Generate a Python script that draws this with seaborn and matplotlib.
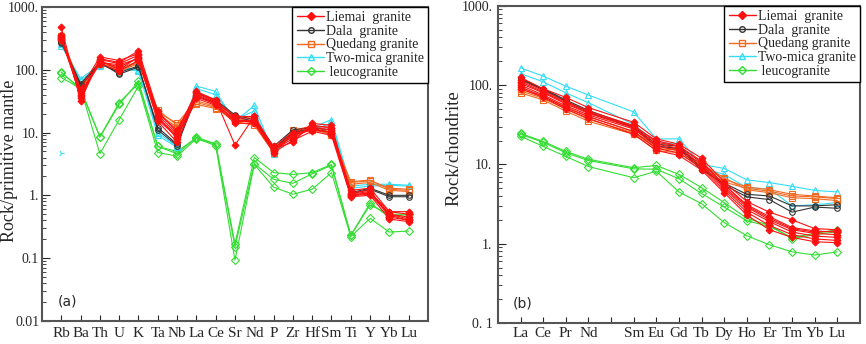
import pandas as pd
import numpy as np
import matplotlib
matplotlib.use('Agg')
import matplotlib.pyplot as plt
from matplotlib.lines import Line2D
import seaborn as sns

# element order on the two diagrams
spider_elements = ['Rb', 'Ba', 'Th', 'U', 'K', 'Ta', 'Nb', 'La', 'Ce', 'Sr',
                   'Nd', 'P', 'Zr', 'Hf', 'Sm', 'Ti', 'Y', 'Yb', 'Lu']
ree_elements = ['La', 'Ce', 'Pr', 'Nd', 'Pm', 'Sm', 'Eu', 'Gd', 'Tb', 'Dy',
                'Ho', 'Er', 'Tm', 'Yb', 'Lu']
ree_plotted = ['La', 'Ce', 'Pr', 'Nd', 'Sm', 'Eu', 'Gd', 'Tb', 'Dy',
               'Ho', 'Er', 'Tm', 'Yb', 'Lu']

groups = ['Liemai  granite', 'Dala  granite', 'Quedang granite',
          'Two-mica granite', ' leucogranite']

# (a) primitive-mantle normalised values, one row per sample
liemai_pm = [
    [470, 32, 150, 130, 200, 22, 10, 45, 33, 6.3, 18, 5.5, 7.0, 14, 13, 1.0, 1.1, 0.55, 0.55],
    [340, 38, 140, 100, 160, 18, 8, 40, 30, 15, 16, 5.3, 8, 12, 11, 1.0, 1.1, 0.50, 0.42],
    [330, 45, 130, 120, 150, 17, 9, 38, 28, 16, 15, 5.0, 9, 11, 10, 1.1, 1.2, 0.45, 0.40],
    [310, 50, 160, 140, 180, 20, 11, 42, 31, 17, 17, 6.0, 10, 13, 12, 1.2, 1.3, 0.55, 0.50],
    [300, 40, 125, 95, 140, 15, 7, 35, 27, 14, 14, 4.8, 7.5, 10.5, 9, 0.95, 1.0, 0.42, 0.38],
    [360, 35, 145, 125, 170, 19, 9.5, 44, 32, 18, 18, 5.8, 8.5, 12.5, 12, 1.05, 1.15, 0.50, 0.45],
    [320, 42, 135, 110, 155, 16, 8.5, 37, 29, 15, 15, 5.2, 9.5, 11.5, 10, 0.98, 1.05, 0.48, 0.40],
]
dala_pm = [
    [270, 60, 130, 85, 110, 12, 6.5, 42, 33, 19, 16, 6.0, 11, 12, 11, 1.1, 1.3, 1.0, 1.0],
    [280, 55, 125, 90, 115, 11, 6.2, 38, 30, 18, 15, 5.5, 10, 11.5, 10, 1.05, 1.25, 0.95, 0.95],
]
quedang_pm = [
    [340, 55, 130, 100, 130, 23, 13, 28, 24, 16, 14, 5.0, 10, 12, 9, 1.65, 1.75, 1.25, 1.2],
    [320, 50, 125, 95, 125, 20, 12, 30, 25, 15, 13, 4.8, 9.5, 11, 9.5, 1.5, 1.6, 1.2, 1.15],
    [300, 58, 135, 105, 135, 21, 14, 32, 26, 17, 15, 5.2, 11, 12.5, 10, 1.6, 1.7, 1.3, 1.25],
]
twomica_pm = [
    [240, 72, 120, 110, 100, 10, 6, 55, 45, 15, 27, 4.6, 10, 12, 16, 1.4, 1.5, 1.5, 1.45],
    [260, 68, 115, 105, 95, 9, 5.8, 50, 40, 16, 22, 4.5, 9.5, 11, 14, 1.3, 1.4, 1.45, 1.4],
]
leuco_pm = [
    [90, 50, 8.5, 28, 65, 6.0, 5.0, 8.2, 6.5, 0.17, 4.0, 2.3, 2.15, 2.3, 3.1, 0.23, 0.75, 0.45, 0.5],
    [75, 50, 4.6, 16, 55, 4.8, 4.2, 8.0, 6.2, 0.093, 3.1, 1.35, 1.04, 1.25, 2.3, 0.22, 0.43, 0.26, 0.27],
    [92, 48, 8.5, 30, 60, 6.0, 4.6, 8.4, 6.6, 0.15, 3.2, 1.8, 1.55, 2.2, 3.0, 0.23, 0.7, 0.5, 0.5],
]
twomica_stray = [4.8]  # lone symbol at Rb

# (b) chondrite normalised REE, one row per sample
liemai_cn = [
    [125, 90, 70, 52, 34, 21, 18, 12, 6.0, 3.4, 2.5, 2.0, 1.55, 1.5],
    [115, 85, 62, 47, 31, 19, 17, 11, 5.5, 3.1, 2.2, 1.6, 1.45, 1.4],
    [105, 80, 58, 44, 29, 18, 16, 10, 5.2, 2.9, 2.0, 1.5, 1.35, 1.3],
    [100, 75, 55, 42, 28, 17, 15, 9.5, 5.0, 2.7, 1.9, 1.4, 1.25, 1.2],
    [95, 72, 52, 40, 26, 16, 14, 9, 4.7, 2.5, 1.7, 1.3, 1.15, 1.1],
    [90, 70, 50, 38, 24, 15, 13, 8.5, 4.4, 2.3, 1.5, 1.2, 1.06, 1.03],
    [110, 82, 60, 45, 30, 20, 17, 10.5, 5.6, 3.0, 2.1, 1.55, 1.4, 1.45],
]
dala_cn = [
    [120, 90, 65, 48, 30, 18, 17, 9, 5.5, 3.9, 3.6, 2.5, 2.9, 2.8],
    [118, 88, 63, 46, 29, 17, 16, 8.5, 5.8, 4.2, 4.0, 3.0, 3.0, 3.1],
]
quedang_cn = [
    [80, 65, 47, 35, 24, 15, 14, 9, 6.0, 5.0, 4.6, 4.0, 3.9, 3.7],
    [85, 68, 50, 37, 25, 16, 15, 9.5, 6.5, 5.2, 4.8, 4.2, 4.0, 3.8],
    [90, 72, 53, 40, 26, 17, 15.5, 10, 6.8, 4.8, 4.4, 3.8, 3.7, 3.5],
]
twomica_cn = [
    [165, 130, 97, 75, 46, 21, 21, 10, 8.9, 6.4, 5.9, 5.3, 4.7, 4.5],
    [140, 110, 80, 60, 32, 19, 18, 9, 7.5, 5.1, 4.9, 3.0, 3.1, 3.3],
]
leuco_cn = [
    [24.6, 19.5, 14.6, 11.6, 9.1, 9.7, 7.5, 5.1, 3.3, 2.1, 1.7, 1.16, 1.3, 1.42],
    [22.7, 16.9, 12.6, 9.4, 6.8, 8.2, 4.5, 3.2, 1.85, 1.26, 0.97, 0.79, 0.72, 0.79],
    [24, 19, 14, 11.2, 8.8, 8.7, 6.6, 4.3, 2.9, 1.95, 1.65, 1.2, 1.35, 1.5],
]

pm_ticks = [0.01, 0.1, 1, 10, 100, 1000]
pm_ticklabels = ['0.01', '0.1', '1.', '10.', '100.', '1000.']
cn_ticks = [0.1, 1, 10, 100, 1000]
cn_ticklabels = ['0. 1', '1.', '10.', '100.', '1000.']

colors = ['#ff1010', '#333333', '#f26a22', '#33ddf5', '#33dd33']
markers = ['D', 'o', 's', '^', 'D']
filled = [True, False, False, False, False]


def to_long(samples, elements, group):
    rows = []
    for i, s in enumerate(samples):
        for el, v in zip(elements, s):
            rows.append({'group': group, 'sample': f'{group}{i}', 'element': el, 'value': v})
    return rows


pm_rows = []
for g, s in zip(groups, [liemai_pm, dala_pm, quedang_pm, twomica_pm, leuco_pm]):
    pm_rows += to_long(s, spider_elements, g)
pm = pd.DataFrame(pm_rows)
pm['pos'] = pm['element'].map({e: i + 1 for i, e in enumerate(spider_elements)})

cn_rows = []
for g, s in zip(groups, [liemai_cn, dala_cn, quedang_cn, twomica_cn, leuco_cn]):
    cn_rows += to_long(s, ree_plotted, g)
cn = pd.DataFrame(cn_rows)
cn['pos'] = cn['element'].map({e: i + 1 for i, e in enumerate(ree_elements)})

sns.set_style('ticks')
plt.rcParams['font.family'] = ['Liberation Serif', 'DejaVu Serif']

fig = plt.figure(figsize=(8.66, 3.44), dpi=100)
ax1 = fig.add_axes([0.0485, 0.067, 0.4457, 0.913])
ax2 = fig.add_axes([0.575, 0.061, 0.418, 0.922])


def draw(ax, df):
    # leucogranite drawn first so the other groups sit on top
    order = [4, 3, 2, 1, 0]
    for k in order:
        sub = df[df['group'] == groups[k]]
        sns.lineplot(data=sub, x='pos', y='value', units='sample', estimator=None,
                     color=colors[k], marker=markers[k], markersize=4 if k else 3.5,
                     markerfacecolor=colors[k] if filled[k] else 'none',
                     markeredgecolor=colors[k], markeredgewidth=0.8,
                     linewidth=0.8, ax=ax, legend=False, sort=False)


draw(ax1, pm)
draw(ax2, cn)
sns.scatterplot(x=[1] * len(twomica_stray), y=twomica_stray, marker='4', s=20,
                color=colors[3], linewidth=0.8, ax=ax1, legend=False)

for ax, elems, yt, ytl, ylim, ylab, tag, labxy, xpad, ypad, ylfs in [
        (ax1, spider_elements, pm_ticks, pm_ticklabels, (0.01, 1000),
         'Rock/primitive mantle', '(a)', (-0.061, 0.51), 4, 2, 13),
        (ax2, ree_elements, cn_ticks, cn_ticklabels, (0.1, 1000),
         'Rock/chondrite', '(b)', (-0.097, 0.55), 3, 4, 13.5)]:
    ax.set_yscale('log')
    ax.set_ylim(*ylim)
    ax.set_xlim(0, len(elems) + 1)
    ax.set_xticks(range(1, len(elems) + 1))
    ax.set_xticklabels([e if e != 'Pm' else '' for e in elems], fontsize=11)
    ax.set_yticks(yt)
    ax.set_yticklabels(ytl, fontsize=10)
    ax.set_xlabel('')
    ax.set_ylabel(ylab, fontsize=ylfs)
    ax.yaxis.set_label_coords(*labxy)
    ax.tick_params(axis='both', which='both', direction='in', top=False, right=False)
    ax.tick_params(axis='x', length=4, width=0.8, pad=xpad)
    ax.tick_params(axis='y', which='major', length=6, width=0.8, pad=ypad)
    ax.tick_params(axis='y', which='minor', length=3, width=0.6)
    for sp in ax.spines.values():
        sp.set_color('#555555')
        sp.set_linewidth(1.5)
    ax.text(0.04, 0.04, tag, transform=ax.transAxes, fontsize=10,
            family='DejaVu Sans', ha='left', va='bottom')
    handles = [Line2D([], [], color=c, marker=m, markersize=4,
                      markerfacecolor=c if f else 'none', markeredgecolor=c,
                      linewidth=1.0)
               for c, m, f in zip(colors, markers, filled)]
    leg = ax.legend(handles, groups, loc='upper right', bbox_to_anchor=(1.0, 1.0),
                    fontsize=10, frameon=True, fancybox=False, framealpha=1,
                    edgecolor='black', borderaxespad=0, handlelength=2.0,
                    handletextpad=0.1, labelspacing=0.05, borderpad=0.3)
    leg.get_frame().set_linewidth(1.0)

fig.savefig('out.png', dpi=100)
